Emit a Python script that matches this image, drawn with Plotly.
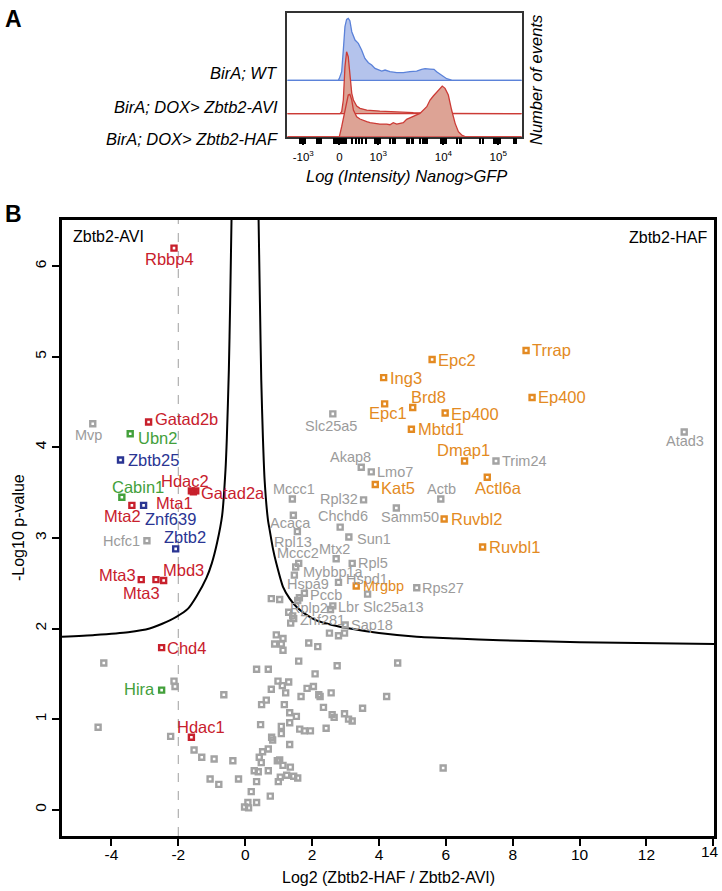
import plotly.graph_objects as go

# ------------------------------------------------------------------
# Panel A data : flow cytometry histograms (display units 0-100 on x,
# relative event counts on y)
# ------------------------------------------------------------------
wt_u = [0, 21.8, 22.2, 23.2, 23.9, 24.6, 25.3, 26.0, 26.7, 27.5, 28.9, 30.3, 31.7, 33.1, 34.6,
        36.0, 37.4, 38.8, 40.3, 41.7, 43.8, 46.7, 49.5, 52.3, 55.2, 57.3, 58.8, 60.9, 62.6,
        63.7, 65.2, 66.6, 68.0, 70.1, 71.5, 100]
wt_h = [0, 0, 6, 26, 91, 161, 183, 186, 179, 146, 121, 111, 91, 66, 53, 46, 36, 31, 28, 31,
        26, 23, 23, 26, 28, 33, 35, 34, 33, 26, 19, 11, 5, 1, 0, 0]

avi_u = [0, 22.5, 23.2, 23.9, 24.6, 25.3, 26.0, 26.7, 27.5, 28.2, 29.6, 31.0, 33.9, 39.5,
         46.7, 53.8, 60.9, 68.0, 100]
avi_h = [0, 0, 6, 41, 141, 186, 171, 106, 61, 41, 23, 16, 11, 8, 5, 3, 2, 1, 0]

haf_u = [0, 22.2, 23.2, 24.6, 25.3, 26.0, 26.7, 27.5, 28.2, 29.6, 31.0, 32.4, 33.9, 35.3, 36.7,
         39.5, 42.4, 43.8, 45.2, 46.7, 48.1, 49.5, 50.9, 53.8, 56.6, 59.5, 60.9, 62.3, 63.7,
         65.2, 66.1, 67.3, 68.7, 70.1, 71.6, 73.0, 74.4, 75.8, 100]
haf_h = [0, 0, 30, 80, 110, 125, 127, 110, 80, 60, 53, 48, 45, 42, 40, 38, 38, 36, 42, 38,
         40, 42, 52, 60, 70, 90, 110, 122, 132, 145, 152, 145, 125, 80, 40, 15, 5, 0, 0]

a_tick_vals = [6.8, 22.2, 38.8, 66.6, 90.0]
a_tick_text = ["-10<sup>3</sup>", "0", "10<sup>3</sup>", "10<sup>4</sup>", "10<sup>5</sup>"]
a_minor_vals = [5.5, 6.2, 7.4, 12.6, 13.4, 14.3, 19.8, 20.4, 21.0, 21.6, 22.8, 23.4, 24.0,
                24.6, 25.2, 27.8, 29.2, 30.6, 32.0, 33.6, 37.6, 38.2, 39.4, 44.0, 45.0, 45.8,
                51.0, 52.0, 53.0, 53.6, 56.8, 57.8, 58.8, 59.4, 65.4, 66.0, 67.2, 67.8,
                72.5, 73.5, 74.2, 82.4, 83.4, 88.0, 88.8, 89.5, 90.6, 96.5, 97.6]
sample_names = ["BirA; WT", "BirA; DOX> Zbtb2-AVI", "BirA; DOX> Zbtb2-HAF"]

# ------------------------------------------------------------------
# Panel B data : volcano plot
# ------------------------------------------------------------------
red_genes = ["Rbbp4", "Gatad2b", "Hdac2", "Mta1", "Gatad2a", "Mta2", "Mta3", "Mta3", "Mbd3",
             "Chd4", "Hdac1"]
red_x = [-2.13, -2.89, -1.61, -1.55, -1.48, -3.39, -3.11, -2.67, -2.44, -2.50, -1.61]
red_y = [6.20, 4.28, 3.52, 3.51, 3.52, 3.36, 2.54, 2.54, 2.53, 1.79, 0.80]

green_genes = ["Ubn2", "Cabin1", "Hira"]
green_x = [-3.44, -3.69, -2.50]
green_y = [4.15, 3.45, 1.32]

blue_genes = ["Zbtb25", "Znf639", "Zbtb2"]
blue_x = [-3.73, -3.04, -2.08]
blue_y = [3.86, 3.36, 2.88]

orange_genes = ["Trrap", "Epc2", "Ing3", "Ep400", "Epc1", "Brd8", "Ep400", "Mbtd1", "Dmap1",
                "Actl6a", "Kat5", "Ruvbl2", "Ruvbl1", "Mrgbp"]
orange_x = [8.40, 5.59, 4.14, 8.58, 4.17, 5.01, 5.98, 4.97, 6.56, 7.24, 3.89, 5.95, 7.10, 3.32]
orange_y = [5.07, 4.97, 4.77, 4.55, 4.48, 4.44, 4.38, 4.20, 3.85, 3.67, 3.59, 3.21, 2.90, 2.47]

gray_genes = ["Mvp", "Hcfc1", "Slc25a5", "Akap8", "Lmo7", "Actb", "Trim24", "Atad3", "Samm50",
              "Mccc1", "Rpl32", "Acaca", "Chchd6", "Rpl13", "Sun1", "Mtx2", "Mccc2", "Rpl5",
              "Mybbp1a", "Hspd1", "Hspa9", "Pccb", "Lbr", "Slc25a13", "Rplp2", "Znf281",
              "Sap18", "Rps27"]
gray_x = [-4.56, -2.94, 2.62, 3.47, 3.77, 5.85, 7.50, 13.13, 4.52, 1.41, 3.54, 1.44, 2.84, 1.56,
          3.10, 2.72, 1.60, 3.20, 1.47, 2.79, 1.62, 1.77, 2.62, 3.66, 1.45, 1.36, 2.99, 5.13]
gray_y = [4.26, 2.97, 4.37, 3.78, 3.73, 3.43, 3.85, 4.17, 3.33, 3.43, 3.42, 3.25, 3.12, 3.07,
          3.01, 2.77, 2.72, 2.72, 2.59, 2.51, 2.34, 2.39, 2.25, 2.38, 2.11, 2.06, 2.04, 2.45]

other_x = [1.51, 1.57, 0.78, 1.03, 2.55, 1.30, 1.42, 2.52, 2.79, 2.97, 0.93, 1.13, 0.88, 1.08,
           1.13, 1.90, 2.17,
           -4.23, -2.13, -2.10, -4.40, -2.23, -0.64, -1.53, -1.30, -0.93, -0.37, -1.05, -0.79,
           -0.20, 0.18, 0.08, -0.02, 0.10, 0.34, 0.75, 0.27, 0.39, 0.34, 0.69, 0.42, 0.52,
           0.69, 0.48, 0.46, 0.49, 0.63, 0.78, 0.34, 0.69, 0.79, 0.82, 0.96, 1.03, 1.13, 1.24,
           1.35, 0.99, 1.05, 1.45, 1.57, 1.33, 1.08, 1.08, 1.33, 1.33, 1.53, 1.17, 1.21, 0.98,
           1.11, 1.30, 1.60, 1.67, 1.63, 1.77, 1.95, 2.09, 1.85, 2.04, 2.20, 2.24, 2.34, 2.57,
           2.60, 2.66, 2.42, 2.75, 2.97, 3.09, 3.20, 3.51, 4.23, 4.56, 5.92]
other_y = [2.68, 2.31, 2.33, 2.32, 2.21, 2.18, 2.14, 1.95, 1.92, 1.95, 1.93, 1.89, 1.83, 1.83,
           1.76, 1.84, 1.80,
           1.62, 1.42, 1.36, 0.91, 0.81, 1.27, 0.66, 0.58, 0.56, 0.54, 0.34, 0.28,
           0.34, 0.20, 0.08, 0.03, 0.02, 0.08, 0.15, 0.43, 0.42, 0.31, 0.43, 0.58, 0.64,
           0.67, 0.52, 0.94, 1.16, 1.21, 1.33, 1.55, 1.55, 0.80, 0.77, 0.54, 0.55, 0.49, 0.38,
           0.47, 0.31, 0.36, 0.37, 0.35, 0.72, 0.84, 0.92, 0.96, 1.07, 1.03, 1.16, 1.29, 1.42,
           1.37, 1.41, 1.64, 1.25, 0.89, 0.87, 0.87, 1.50, 1.34, 1.36, 1.27, 1.25, 1.13, 1.29,
           1.05, 1.02, 0.90, 1.59, 1.06, 1.00, 0.98, 1.12, 1.25, 1.62, 0.46]

# significance threshold curve
thr_left_x = [-0.41, -0.45, -0.49, -0.55, -0.59, -0.69, -0.84, -1.00, -1.16, -1.45, -1.71,
              -2.06, -2.50, -2.86, -3.50, -4.50, -5.48]
thr_left_y = [6.51, 5.60, 4.85, 4.10, 3.75, 3.25, 2.95, 2.72, 2.56, 2.36, 2.22, 2.13, 2.05,
              2.00, 1.96, 1.93, 1.91]
thr_right_x = [0.40, 0.44, 0.48, 0.53, 0.58, 0.68, 0.73, 0.83, 0.93, 1.13, 1.33, 1.53, 1.80,
               2.13, 2.60, 3.13, 4.00, 5.13, 6.30, 7.62, 10.0, 14.03]
thr_right_y = [6.51, 5.60, 4.74, 4.10, 3.64, 3.20, 3.09, 2.88, 2.72, 2.46, 2.33, 2.24, 2.16,
               2.09, 2.04, 2.00, 1.95, 1.91, 1.89, 1.87, 1.85, 1.83]
fold_cut = -2
x_ticks = list(range(-4, 15, 2))

# ------------------------------------------------------------------
# styles
# ------------------------------------------------------------------
W, H = 722, 891
FONT = "Liberation Sans, Arial, Helvetica, sans-serif"
C_RED, C_GREEN, C_BLUE, C_ORANGE = "#c8202c", "#43a03b", "#2a3593", "#e38a22"
C_GRAY_PT, C_GRAY_TX = "#a3a3a3", "#9b9b9b"
C_WT_LINE, C_WT_FILL = "#5b82d9", "#b4c3ec"
C_R_LINE, C_R_FILL = "#cc3b36", "#dda395"
A_BASE = [169, 69, 0]

# label placement: (anchor, dx px, dy px) relative to point
red_place = [("center", -5, 11), ("left", 5.5, -3), ("center", -6, -10), ("right", 0.3, 11),
             ("left", 4, 2), ("center", -9.5, 11), ("right", -4.5, -5), ("center", -14, 13),
             ("left", -1.7, -11), ("left", 4.5, 0), ("center", 10, -10)]
green_place = [("left", 7, 4), ("center", 16, -10.7), ("right", -5.5, -1)]
blue_place = [("left", 6.6, 0), ("left", 0, 13.7), ("center", 9, -11.7)]
orange_place = [("left", 4.7, 0), ("left", 5, 0), ("left", 5.7, 0), ("left", 4.7, -0.6),
                ("center", 3, 9.3), ("center", 16, -10.6), ("left", 5, 0.6), ("left", 5.7, 0),
                ("center", -1, -11.3), ("center", 11, 10.7), ("left", 5, 3), ("left", 5.7, 0),
                ("left", 5.7, 0), ("left", 5.6, 0)]
gray_place = [("center", -4, 11), ("right", -6, 0), ("center", -2, 12.4), ("center", -11, -10.7),
              ("left", 4.7, 0), ("center", 1, -10), ("left", 5, 0), ("center", 1, 9.4),
              ("center", 13.5, 9), ("center", 2, -9.7), ("right", -4.3, -1), ("center", -3, 7.3),
              ("center", 3, -10.7), ("center", -4, 10), ("left", 6.7, 1.6), ("center", -2, -9.7),
              ("center", -1, -10), ("left", 4.3, 0), ("left", 8, -3.3), ("left", 6, -3.4),
              ("center", 8.5, -14), ("left", 5, 1.7), ("left", 4, 0.7), ("left", -5.6, 12.7),
              ("center", 15, -10.6), ("left", 8.3, -3.4), ("left", 4.5, 0), ("left", 4.5, 0)]


def px(x):
    return x / W


def py(y):
    return 1 - y / H


fig = go.Figure()

# ---------------- Panel A ----------------
for base, uu, hh, lc, fc in [(A_BASE[0], wt_u, wt_h, C_WT_LINE, C_WT_FILL),
                             (A_BASE[1], avi_u, avi_h, C_R_LINE, C_R_FILL),
                             (A_BASE[2], haf_u, haf_h, C_R_LINE, C_R_FILL)]:
    fig.add_trace(go.Scatter(x=[0, 100], y=[base, base], mode="lines",
                             line=dict(color=lc, width=1.3), xaxis="x2", yaxis="y2",
                             hoverinfo="skip", showlegend=False))
    fig.add_trace(go.Scatter(x=uu, y=[base + h for h in hh], mode="lines",
                             line=dict(color=lc, width=1.3), fill="tonexty", fillcolor=fc,
                             xaxis="x2", yaxis="y2", hoverinfo="skip", showlegend=False))

# ---------------- Panel B ----------------
fig.add_trace(go.Scatter(x=thr_left_x, y=thr_left_y, mode="lines",
                         line=dict(color="black", width=2, shape="spline", smoothing=0.6),
                         hoverinfo="skip", showlegend=False))
fig.add_trace(go.Scatter(x=thr_right_x, y=thr_right_y, mode="lines",
                         line=dict(color="black", width=2, shape="spline", smoothing=0.6),
                         hoverinfo="skip", showlegend=False))

marker_base = dict(symbol="square-open", size=5)
fig.add_trace(go.Scatter(x=other_x, y=other_y, mode="markers",
                         marker=dict(**marker_base, color=C_GRAY_PT,
                                     line=dict(width=2.4, color=C_GRAY_PT)),
                         showlegend=False))
groups = [(gray_genes, gray_x, gray_y, gray_place, C_GRAY_PT, C_GRAY_TX, 14.5),
          (red_genes, red_x, red_y, red_place, C_RED, C_RED, 16.5),
          (green_genes, green_x, green_y, green_place, C_GREEN, C_GREEN, 16.5),
          (blue_genes, blue_x, blue_y, blue_place, C_BLUE, C_BLUE, 16.5),
          (orange_genes, orange_x, orange_y, orange_place, C_ORANGE, C_ORANGE, 16.5)]
annotations = []
for genes, gx, gy, place, mc, tc, fs in groups:
    fig.add_trace(go.Scatter(x=gx, y=gy, mode="markers", text=genes,
                             marker=dict(**marker_base, color=mc, line=dict(width=2.4, color=mc)),
                             showlegend=False))
    for g, xv, yv, (anc, dx, dy) in zip(genes, gx, gy, place):
        size = 14.5 if g == "Mrgbp" else fs
        annotations.append(dict(x=xv, y=yv, xref="x", yref="y", text=g, showarrow=False,
                                xanchor=anc, yanchor="middle", xshift=dx, yshift=-dy,
                                borderpad=0, font=dict(family=FONT, size=size, color=tc)))

fig.add_shape(type="line", x0=fold_cut, x1=fold_cut, y0=0, y1=1, xref="x", yref="y domain",
              line=dict(color="#b5b5b5", width=1.3, dash="dash"), layer="below")

# texts
def txt(x, y, s, size, anchor="center", bold=False, italic=False, angle=0, color="black"):
    if italic:
        s = "<i>" + s + "</i>"
    if bold:
        s = "<b>" + s + "</b>"
    annotations.append(dict(x=px(x), y=py(y), xref="paper", yref="paper", text=s,
                            showarrow=False, xanchor=anchor, yanchor="middle",
                            textangle=angle, font=dict(family=FONT, size=size, color=color)))

txt(13, 19, "A", 23, bold=True)
txt(14, 214, "B", 23, bold=True)
txt(280, 72.7, sample_names[0], 16.5, anchor="right", italic=True)
txt(280, 106.7, sample_names[1], 16.5, anchor="right", italic=True)
txt(280, 139.3, sample_names[2], 16.5, anchor="right", italic=True)
txt(536, 80, "Number of events", 16.5, italic=True, angle=-90)
txt(407, 176, "Log (Intensity) Nanog>GFP", 16.5, italic=True)
txt(71, 236.5, "Zbtb2-AVI", 16, anchor="left")
txt(709, 237.5, "Zbtb2-HAF", 16, anchor="right")
txt(388, 877, "Log2 (Zbtb2-HAF / Zbtb2-AVI)", 16)
txt(18, 528, "-Log10 p-value", 16, angle=-90)
# last x tick label sits on the page edge: place it flush inside the page
txt(721, 851.5, str(x_ticks[-1]), 15.5, anchor="right")

fig.update_layout(
    width=W, height=H, margin=dict(l=0, r=0, t=0, b=0),
    paper_bgcolor="white", plot_bgcolor="white",
    font=dict(family=FONT, color="black"),
    showlegend=False, annotations=annotations,
    xaxis=dict(domain=[px(62), px(714.3)], range=[-5.48, 14.03], tickvals=x_ticks,
               ticktext=[str(t) for t in x_ticks[:-1]] + [""],
               ticks="outside", ticklen=7, tickwidth=2, tickcolor="black", ticklabelstandoff=-4,
               showline=True, linewidth=2.5, linecolor="black", mirror=True,
               showgrid=False, zeroline=False, tickfont=dict(size=15.5)),
    yaxis=dict(domain=[py(836), py(220)], range=[-0.29, 6.51], tickvals=list(range(0, 7)),
               ticks="outside", ticklen=7, tickwidth=2, tickcolor="black", tickangle=-90,
               showline=True, linewidth=2.5, linecolor="black", mirror=True,
               showgrid=False, zeroline=False, tickfont=dict(size=15.5)),
    xaxis2=dict(domain=[px(287.3), px(521.7)], range=[0, 100], anchor="y2",
                tickvals=a_tick_vals, ticktext=a_tick_text, ticks="outside", ticklen=7,
                tickwidth=2, tickcolor="black", ticklabelstandoff=2,
                minor=dict(tickvals=a_minor_vals, ticks="outside", ticklen=6, tickwidth=2,
                           tickcolor="black"),
                showline=True, linewidth=1.5, linecolor="#333333", mirror=True,
                showgrid=False, zeroline=False, tickfont=dict(size=11.5)),
    yaxis2=dict(domain=[py(136.7), py(12.7)], range=[0, 372], anchor="x2",
                showticklabels=False, ticks="", showline=True, linewidth=1.5,
                linecolor="#333333", mirror=True, showgrid=False, zeroline=False),
)

fig.write_html("out.html", config={"displayModeBar": False},
               post_script="document.body.style.margin='0';document.body.style.overflow='hidden';")
